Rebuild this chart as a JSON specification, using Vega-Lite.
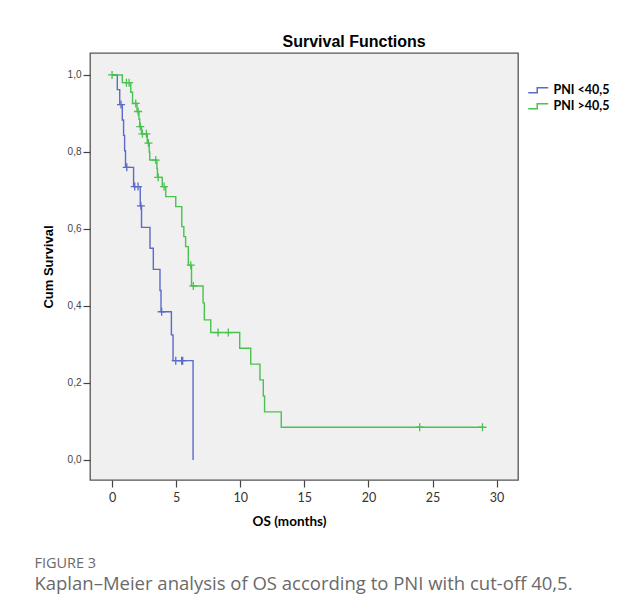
{
  "$schema": "https://vega.github.io/schema/vega-lite/v6.json",
  "padding": {"left": 34, "top": 33, "right": 5, "bottom": 5},
  "background": "white",
  "datasets": {
    "curve": [
      {"group": "PNI <40,5", "t": 0, "s": 1.0},
      {"group": "PNI <40,5", "t": 0.41, "s": 0.962},
      {"group": "PNI <40,5", "t": 0.6, "s": 0.923},
      {"group": "PNI <40,5", "t": 0.8, "s": 0.883},
      {"group": "PNI <40,5", "t": 0.9, "s": 0.843},
      {"group": "PNI <40,5", "t": 0.98, "s": 0.803},
      {"group": "PNI <40,5", "t": 1.05, "s": 0.76},
      {"group": "PNI <40,5", "t": 1.68, "s": 0.71},
      {"group": "PNI <40,5", "t": 2.2, "s": 0.66},
      {"group": "PNI <40,5", "t": 2.3, "s": 0.604},
      {"group": "PNI <40,5", "t": 2.96, "s": 0.55},
      {"group": "PNI <40,5", "t": 3.22, "s": 0.495},
      {"group": "PNI <40,5", "t": 3.74, "s": 0.44},
      {"group": "PNI <40,5", "t": 3.82, "s": 0.385},
      {"group": "PNI <40,5", "t": 4.63, "s": 0.325},
      {"group": "PNI <40,5", "t": 4.76, "s": 0.258},
      {"group": "PNI <40,5", "t": 6.32, "s": 0.0},
      {"group": "PNI >40,5", "t": 0, "s": 1.0},
      {"group": "PNI >40,5", "t": 0.8, "s": 0.98},
      {"group": "PNI >40,5", "t": 1.46, "s": 0.955},
      {"group": "PNI >40,5", "t": 1.6, "s": 0.926},
      {"group": "PNI >40,5", "t": 1.95, "s": 0.905},
      {"group": "PNI >40,5", "t": 2.1, "s": 0.885},
      {"group": "PNI >40,5", "t": 2.16, "s": 0.866},
      {"group": "PNI >40,5", "t": 2.3, "s": 0.847},
      {"group": "PNI >40,5", "t": 2.75, "s": 0.823},
      {"group": "PNI >40,5", "t": 2.9, "s": 0.8},
      {"group": "PNI >40,5", "t": 2.94, "s": 0.779},
      {"group": "PNI >40,5", "t": 3.5, "s": 0.757},
      {"group": "PNI >40,5", "t": 3.54, "s": 0.734},
      {"group": "PNI >40,5", "t": 3.92, "s": 0.71},
      {"group": "PNI >40,5", "t": 4.19, "s": 0.684},
      {"group": "PNI >40,5", "t": 4.97, "s": 0.658},
      {"group": "PNI >40,5", "t": 5.44, "s": 0.606},
      {"group": "PNI >40,5", "t": 5.6, "s": 0.58},
      {"group": "PNI >40,5", "t": 5.74, "s": 0.554},
      {"group": "PNI >40,5", "t": 5.95, "s": 0.506},
      {"group": "PNI >40,5", "t": 6.2, "s": 0.452},
      {"group": "PNI >40,5", "t": 7.1, "s": 0.408},
      {"group": "PNI >40,5", "t": 7.2, "s": 0.364},
      {"group": "PNI >40,5", "t": 7.7, "s": 0.331},
      {"group": "PNI >40,5", "t": 9.96, "s": 0.29},
      {"group": "PNI >40,5", "t": 10.82, "s": 0.249},
      {"group": "PNI >40,5", "t": 11.54, "s": 0.208},
      {"group": "PNI >40,5", "t": 11.8, "s": 0.166},
      {"group": "PNI >40,5", "t": 11.9, "s": 0.125},
      {"group": "PNI >40,5", "t": 13.2, "s": 0.085},
      {"group": "PNI >40,5", "t": 28.9, "s": 0.085}
    ],
    "censored": [
      {"group": "PNI <40,5", "t": 0.7, "s": 0.923},
      {"group": "PNI <40,5", "t": 1.15, "s": 0.76},
      {"group": "PNI <40,5", "t": 1.77, "s": 0.71},
      {"group": "PNI <40,5", "t": 2.03, "s": 0.71},
      {"group": "PNI <40,5", "t": 2.25, "s": 0.66},
      {"group": "PNI <40,5", "t": 3.87, "s": 0.385},
      {"group": "PNI <40,5", "t": 4.97, "s": 0.258},
      {"group": "PNI <40,5", "t": 5.43, "s": 0.258},
      {"group": "PNI <40,5", "t": 5.51, "s": 0.258},
      {"group": "PNI >40,5", "t": 0, "s": 1.0},
      {"group": "PNI >40,5", "t": 1.12, "s": 0.98},
      {"group": "PNI >40,5", "t": 1.33, "s": 0.98},
      {"group": "PNI >40,5", "t": 1.85, "s": 0.926},
      {"group": "PNI >40,5", "t": 2.03, "s": 0.905},
      {"group": "PNI >40,5", "t": 2.2, "s": 0.866},
      {"group": "PNI >40,5", "t": 2.37, "s": 0.847},
      {"group": "PNI >40,5", "t": 2.68, "s": 0.847},
      {"group": "PNI >40,5", "t": 2.84, "s": 0.823},
      {"group": "PNI >40,5", "t": 3.41, "s": 0.779},
      {"group": "PNI >40,5", "t": 3.6, "s": 0.734},
      {"group": "PNI >40,5", "t": 4.06, "s": 0.71},
      {"group": "PNI >40,5", "t": 6.14, "s": 0.506},
      {"group": "PNI >40,5", "t": 6.34, "s": 0.452},
      {"group": "PNI >40,5", "t": 8.27, "s": 0.331},
      {"group": "PNI >40,5", "t": 9.07, "s": 0.331},
      {"group": "PNI >40,5", "t": 24.0, "s": 0.085},
      {"group": "PNI >40,5", "t": 28.9, "s": 0.085}
    ]
  },
  "title": {
    "text": "FIGURE 3",
    "subtitle": "Kaplan–Meier analysis of OS according to PNI with cut-off 40,5.",
    "orient": "bottom",
    "anchor": "start",
    "frame": "bounds",
    "offset": 28,
    "dx": -7,
    "font": "Open Sans",
    "fontSize": 14.5,
    "fontWeight": "normal",
    "color": "#6a6a6a",
    "subtitleFont": "Open Sans",
    "subtitleFontSize": 18.5,
    "subtitleColor": "#6a6a6a",
    "subtitlePadding": 4
  },
  "vconcat": [
    {
      "width": 428,
      "height": 427,
      "title": {
        "text": "Survival Functions",
        "font": "Liberation Sans",
        "fontSize": 16,
        "fontWeight": "bold",
        "color": "#000000",
        "anchor": "middle",
        "frame": "bounds",
        "offset": 3,
        "dx": 74
      },
      "view": {"fill": "#f0f0f0", "stroke": "#555555", "strokeWidth": 1.3},
      "layer": [
        {
          "data": {"name": "curve"},
          "mark": {"type": "line", "interpolate": "step-after", "strokeWidth": 1.4},
          "encoding": {
            "x": {
              "field": "t", "type": "quantitative",
              "scale": {"domain": [-1.72, 31.67], "nice": false, "zero": false},
              "axis": {
                "title": "OS (months)",
                "values": [0, 5, 10, 15, 20, 25, 30],
                "grid": false, "domain": false,
                "tickSize": 7, "tickColor": "#444444", "tickWidth": 1.2,
                "labelFont": "Lato", "labelFontSize": 12.5, "labelColor": "#333333", "labelPadding": 4,
                "titleFont": "Lato", "titleFontSize": 13.5, "titleFontWeight": "bold", "titleColor": "#000000",
                "titlePadding": 11, "titleX": 199
              }
            },
            "y": {
              "field": "s", "type": "quantitative",
              "scale": {"domain": [-0.052, 1.057], "nice": false, "zero": false},
              "axis": {
                "title": "Cum Survival",
                "values": [0, 0.2, 0.4, 0.6, 0.8, 1.0],
                "format": ".1f",
                "labelExpr": "replace(datum.label, '.', ',')",
                "grid": false, "domain": false,
                "tickSize": 7, "tickColor": "#444444", "tickWidth": 1.2,
                "labelFont": "Liberation Sans", "labelFontSize": 10, "labelColor": "#444444", "labelPadding": 2,
                "titleFont": "Liberation Sans", "titleFontSize": 13, "titleFontWeight": "bold", "titleColor": "#000000",
                "titlePadding": 12
              }
            },
            "color": {
              "field": "group", "type": "nominal",
              "scale": {"domain": ["PNI <40,5", "PNI >40,5"], "range": ["#5a6bc8", "#49c24f"]},
              "legend": {
                "title": null,
                "orient": "none",
                "legendX": 442,
                "legendY": 31,
                "padding": 0,
                "symbolType": "M-2,0.5H-0.2V-0.5H2",
                "symbolSize": 100,
                "symbolStrokeWidth": 1.5,
                "symbolFillColor": "transparent",
                "labelOffset": 9,
                "labelFont": "Lato", "labelFontSize": 12.5, "labelFontWeight": "bold", "labelColor": "#000000",
                "rowPadding": 3
              }
            }
          }
        },
        {
          "data": {"name": "censored"},
          "mark": {"type": "point", "shape": "M-1,0H1M0,-1V1", "filled": false, "strokeWidth": 1.3, "size": 64, "opacity": 1},
          "encoding": {
            "x": {"field": "t", "type": "quantitative"},
            "y": {"field": "s", "type": "quantitative"},
            "color": {"field": "group", "type": "nominal", "legend": null}
          }
        }
      ]
    }
  ]
}
